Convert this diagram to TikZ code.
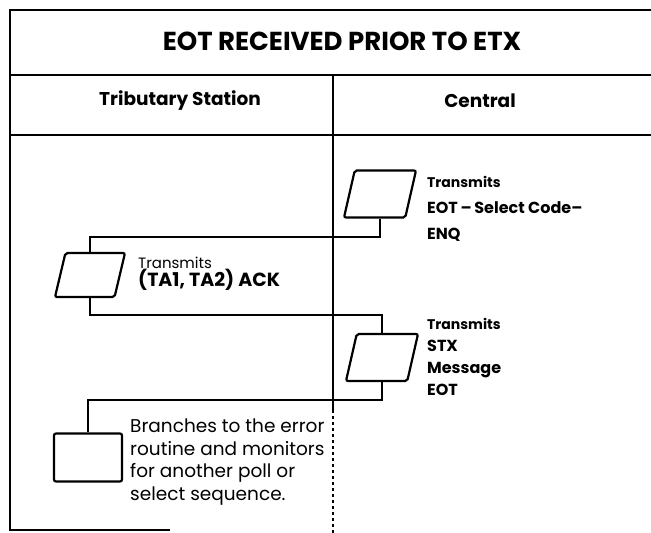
\documentclass[tikz,border=0pt]{standalone}
\usepackage{fontspec}
\setmainfont{Poppins}
\usetikzlibrary{shapes.geometric}

\tikzstyle{frame} = [line width=1.6pt]
\tikzstyle{iobox} = [trapezium, trapezium left angle=78, trapezium right angle=102, trapezium stretches=true, rounded corners=2pt, minimum width=72pt, minimum height=47pt, draw=black, line width=2.2pt, inner sep=2pt]
\tikzstyle{procbox} = [rectangle, rounded corners=2pt, minimum width=68pt, minimum height=48pt, draw=black, line width=2.2pt]
\tikzstyle{link} = [line width=1.8pt]
\tikzstyle{heading} = [font=\bfseries\fontsize{18.5}{20}\selectfont]
\tikzstyle{lefttext} = [anchor=west, align=left, inner sep=0pt, font=\fontsize{18.5}{22.5}\selectfont]
\tikzstyle{righttext} = [anchor=west, align=left, inner sep=0pt, font=\bfseries\fontsize{16}{26}\selectfont]

\begin{document}
\begin{tikzpicture}[x=1pt, y=-1pt]
\useasboundingbox (0,0) rectangle (651,533);

% Frame
\draw [frame] (651,10) -- (10,10) -- (10,530) -- (170,530);
\draw [frame] (10,75) -- (651,75);
\draw [frame] (10,135) -- (651,135);
\draw [frame] (333,75) -- (333,410);
\draw [frame, dashed] (333,410) -- (333,533);

% Headings
\node (title) [heading, font=\bfseries\fontsize{26}{28}\selectfont] at (342,41) {EOT RECEIVED PRIOR TO ETX};
\node (trib) [heading] at (180,101) {Tributary Station};
\node (central) [heading] at (480,101) {Central};

% Nodes
\node (select) [iobox] at (380,194) {};
\node (ack) [iobox, minimum width=70pt, minimum height=44pt] at (90,275) {};
\node (message) [iobox] at (382,357.5) {};
\node (branch) [procbox] at (88,457.5) {};

\node (selecttxt) [righttext] at (427,208.5) {\fontsize{14}{26}\selectfont Transmits\\EOT\,–\,Select Code–\\ENQ};
\node (acktxt) [lefttext, font=\fontsize{15}{18.5}\selectfont] at (138,274) {Transmits\\\bfseries\fontsize{19}{18.5}\selectfont(TA1, TA2) ACK};
\node (messagetxt) [righttext, font=\bfseries\fontsize{16}{22}\selectfont] at (427,356.5) {\fontsize{14}{22}\selectfont Transmits\\STX\\Message\\EOT};
\node (branchtxt) [lefttext] at (130,462) {Branches to the error\\routine and monitors\\for another poll or\\select sequence.};

% Rails
\coordinate (rail1) at (0,237);
\coordinate (rail2) at (0,315);
\coordinate (rail3) at (0,400);

% Arrows
\draw [link] (select.south) |- (rail1 -| ack.north) -- (ack.north);
\draw [link] (ack.south) |- (rail2 -| message.north) -- (message.north);
\draw [link] (message.south) |- (rail3 -| branch.north) -- (branch.north);

\end{tikzpicture}
\end{document}
